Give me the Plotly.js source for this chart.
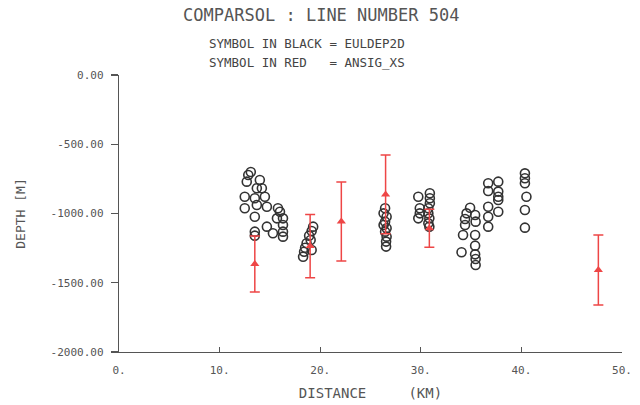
<!DOCTYPE html>
<html>
<head>
<meta charset="utf-8">
<script src="https://cdn.plot.ly/plotly-3.0.1.min.js"></script>
<style>html,body{margin:0;padding:0;background:#fff;}#chart{width:640px;height:405px;}</style>
</head>
<body>
<div id="chart"></div>
<script>
// EULDEP2D solutions (black circles): distance (km), depth (m)
const blackX = [
  12.85, 13.1, 14.0, 12.7, 13.7, 14.2, 12.5, 13.5, 14.5, 12.5, 13.7, 14.7, 13.5,
  15.8, 16.0, 15.7, 16.3, 16.3, 14.7, 15.3, 16.3, 16.3, 13.5, 13.5,
  19.3, 19.15, 18.9, 19.05, 18.65, 18.5, 18.4, 18.3, 19.15,
  26.45, 26.3, 26.6, 26.45, 26.3, 26.6, 26.45, 26.6, 26.55, 26.55,
  29.75, 30.9, 30.9, 30.9, 29.9, 29.9, 29.75, 30.75, 30.75, 30.85, 30.75, 30.85,
  34.9, 34.55, 35.4, 34.4, 35.45, 34.4, 34.2, 35.4, 34.05, 35.4, 35.4, 35.45, 35.45,
  36.7, 37.7, 36.7, 37.7, 37.7, 37.7, 36.7, 37.7, 36.7, 36.7,
  40.35, 40.35, 40.35, 40.5, 40.35, 40.35
];
const blackY = [
  -722, -700, -758, -770, -818, -818, -879, -890, -879, -962, -939, -951, -1023,
  -962, -987, -1035, -1035, -1083, -1095, -1143, -1131, -1167, -1131, -1160,
  -1095, -1126, -1160, -1191, -1215, -1247, -1276, -1312, -1264,
  -962, -999, -1023, -1059, -1083, -1107, -1131, -1167, -1203, -1239,
  -879, -854, -890, -926, -962, -999, -1035, -962, -999, -1035, -1071, -1095,
  -958, -999, -1011, -1040, -1059, -1083, -1155, -1155, -1280, -1232, -1295, -1328, -1372,
  -782, -770, -838, -842, -879, -902, -951, -987, -1023, -1095,
  -710, -746, -782, -879, -975, -1102
];

// ANSIG_XS solutions (red triangles with error bars)
const redX = [13.5, 19.0, 22.1, 26.5, 30.85, 47.65];
const redY = [-1365, -1235, -1058, -862, -1107, -1408];
const redErr = [202, 228, 285, 284, 137, 253];

// Axis ticks
const xTickVals = [0, 10, 20, 30, 40, 50];
const xTickText = ["0.", "10.", "20.", "30.", "40.", "50."];
const yTickVals = [0, -500, -1000, -1500, -2000];
const yTickText = ["0.00", "-500.00", "-1000.00", "-1500.00", "-2000.00"];

const axisColor = "#555";
const monoFont = "DejaVu Sans Mono, Liberation Mono, monospace";

const traces = [
  {
    x: blackX, y: blackY, type: "scatter", mode: "markers",
    marker: {symbol: "circle-open", size: 9, color: "#333", line: {width: 1.6, color: "#333"}},
    hoverinfo: "x+y", showlegend: false
  },
  {
    x: redX, y: redY, type: "scatter", mode: "markers",
    marker: {symbol: "triangle-up", size: 8, color: "rgb(238,70,70)"},
    error_y: {type: "data", array: redErr, visible: true, color: "rgb(238,70,70)", thickness: 1.5, width: 5},
    hoverinfo: "x+y", showlegend: false
  }
];

const layout = {
  width: 640, height: 405,
  margin: {l: 119, r: 18, t: 75, b: 53},
  paper_bgcolor: "#fff", plot_bgcolor: "#fff",
  showlegend: false,
  title: {
    text: "COMPARSOL : LINE NUMBER 504",
    font: {family: monoFont, size: 17, color: "#555"},
    x: 0.502, xanchor: "center", y: 0.962, yanchor: "middle"
  },
  xaxis: {
    range: [0, 50], showgrid: false, zeroline: false,
    showline: true, linecolor: axisColor, linewidth: 1.2,
    tickmode: "array", tickvals: xTickVals, ticktext: xTickText,
    ticks: "inside", ticklen: 5, tickcolor: axisColor, tickwidth: 1.2,
    ticklabelstandoff: 8,
    tickfont: {family: monoFont, size: 11, color: "#555"},
    title: {text: "DISTANCE     (KM)", font: {family: monoFont, size: 14, color: "#555"}, standoff: 11}
  },
  yaxis: {
    range: [-2000, 0], showgrid: false, zeroline: false,
    showline: true, linecolor: axisColor, linewidth: 1.2,
    tickmode: "array", tickvals: yTickVals, ticktext: yTickText,
    ticks: "outside", ticklen: 7, tickcolor: axisColor, tickwidth: 1.2,
    ticklabelstandoff: 5,
    tickfont: {family: monoFont, size: 11, color: "#555"},
    title: {text: "DEPTH [M]", font: {family: monoFont, size: 13, color: "#555"}, standoff: 22}
  },
  annotations: [
    {text: "SYMBOL IN BLACK = EULDEP2D", xref: "paper", yref: "paper", x: (207 - 119) / 503, y: 1 + (75 - 44) / 277,
     xanchor: "left", yanchor: "middle", showarrow: false,
     font: {family: monoFont, size: 12.5, color: "#444"}},
    {text: "SYMBOL IN RED   = ANSIG_XS", xref: "paper", yref: "paper", x: (207 - 119) / 503, y: 1 + (75 - 62) / 277,
     xanchor: "left", yanchor: "middle", showarrow: false,
     font: {family: monoFont, size: 12.5, color: "#444"}}
  ]
};

Plotly.newPlot("chart", traces, layout, {displayModeBar: false, staticPlot: true});
</script>
</body>
</html>
